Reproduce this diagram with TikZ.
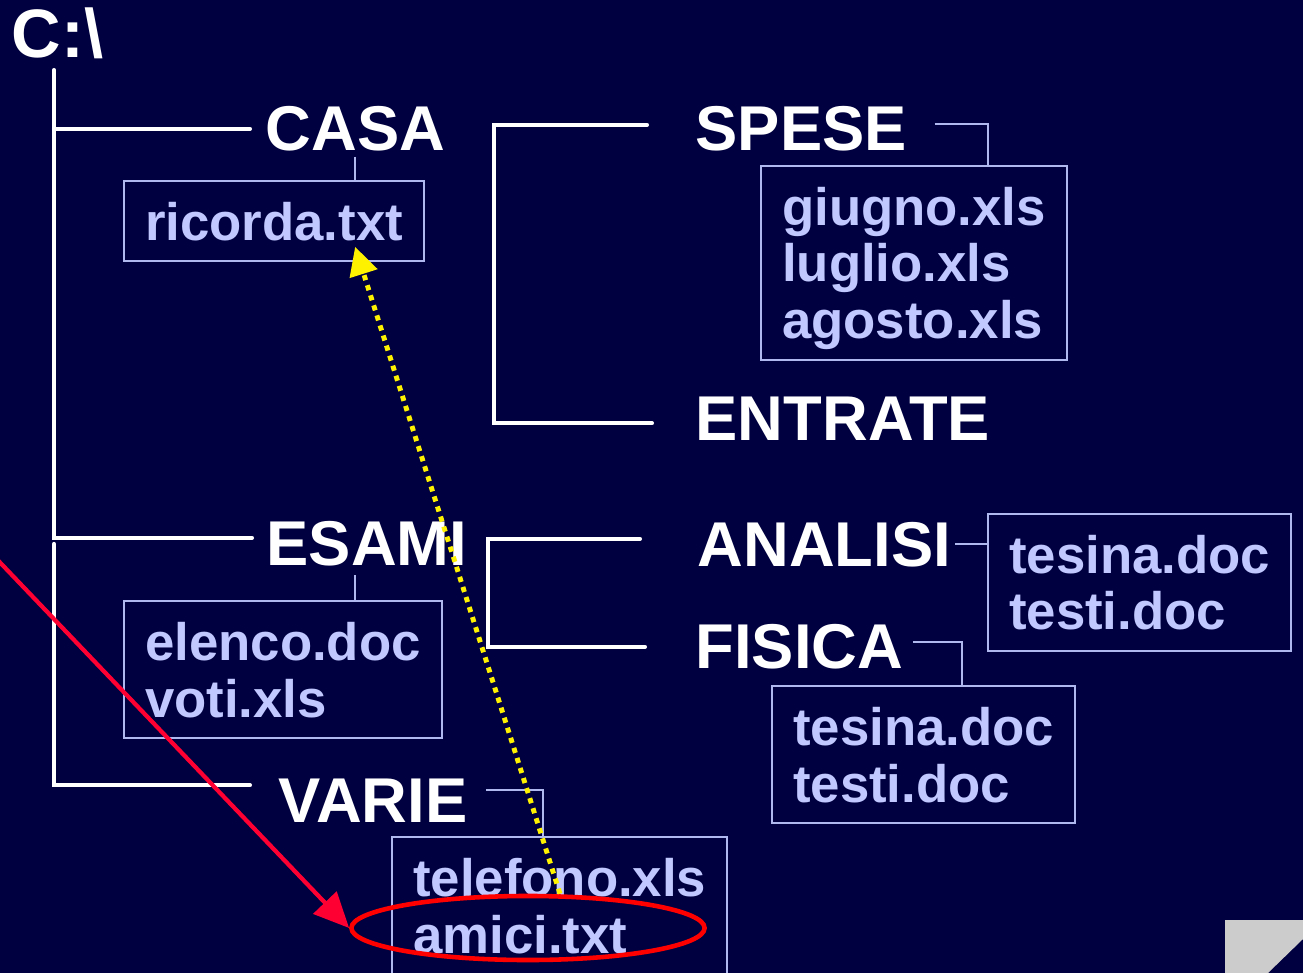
\documentclass[tikz,border=0pt]{standalone}
\usepackage{fontspec}
\setmainfont{Liberation Sans}
\usetikzlibrary{arrows.meta,calc,shapes.geometric}

\definecolor{navy}{RGB}{0,0,64}
\definecolor{lilac}{RGB}{192,200,255}
\definecolor{boxline}{RGB}{176,184,240}
\definecolor{alarm}{RGB}{255,0,51}
\definecolor{cornergray}{RGB}{204,204,204}

\tikzset{
    folder/.style={anchor=base west, inner sep=0pt, text depth=0pt, text=white, font=\fontsize{18}{20}\selectfont\bfseries},
    files/.style={anchor=north west, draw=boxline, line width=0.6pt, inner xsep=6pt, inner ysep=5.9pt, align=left, text depth=0pt, text=lilac, font=\fontsize{15}{16.2}\selectfont\bfseries},
    tree/.style={white, line width=1.15pt, line cap=round},
    link/.style={boxline, line width=0.6pt},
    redarrow/.style={alarm, line width=1.2pt, -{Triangle[length=10pt,width=9pt]}},
    hint/.style={yellow, line width=1.4pt, dash pattern=on 1.5pt off 1.5pt, -{Triangle[length=8pt,width=8pt]}},
}

\begin{document}
\begin{tikzpicture}[x=0.01cm, y=-0.01cm]
    \fill[navy] (0,0) rectangle (1303,973);
    \clip (0,0) rectangle (1303,973);

    \node[folder, font=\fontsize{19.5}{20}\selectfont\bfseries] (root) at (11,58) {C:\textbackslash};
    \node[folder] (casa) at (265,151) {CASA};
    \node[folder] (spese) at (695,151) {SPESE};
    \node[folder] (entrate) at (695,440) {ENTRATE};
    \node[folder] (esami) at (266,565) {ESAMI};
    \node[folder] (analisi) at (697,566) {ANALISI};
    \node[folder] (fisica) at (695,668) {FISICA};
    \node[folder] (varie) at (278,822) {VARIE};

    \node[files] (ricorda) at (123,180) {ricorda.txt};
    \node[files] (spesefiles) at (760,165) {giugno.xls\\luglio.xls\\agosto.xls};
    \node[files] (esamifiles) at (123,600) {elenco.doc\\voti.xls};
    \node[files] (analisifiles) at (987,513) {tesina.doc\\testi.doc};
    \node[files] (fisicafiles) at (771,685) {tesina.doc\\testi.doc};
    \node[files] (variefiles) at (391,836) {telefono.xls\\amici.txt};

    \coordinate (trunk) at (54,70);
    \draw[tree] (trunk) |- ($(esami.west)+(-14,-5)$);
    \draw[tree] (casa.west -| trunk) -- ($(casa.west)+(-15,0)$);
    \draw[tree] ($(esami.west -| trunk)+(0,1)$) |- ($(varie.west)+(-28,-15)$);
    \draw[tree] ($(spese.west)+(-48,-4)$) -- ($(spese.west)+(-201,-4)$) |- ($(entrate.west)+(-43,5)$);
    \draw[tree] ($(analisi.west)+(-57,-5)$) -- ($(analisi.west)+(-209,-5)$) |- ($(fisica.west)+(-50,1)$);

    \draw[link] ($(casa.south)+(0,5)$) -- (casa.south |- ricorda.north);
    \draw[link] ($(esamifiles.north -| casa.south)+(0,-25)$) -- (esamifiles.north -| casa.south);
    \draw[link] ($(spese.east)+(27,-5)$) -| ($(spesefiles.north)+(74,0)$);
    \draw[link] (analisifiles.west |- analisi.east) -- ++(-32,0);
    \draw[link] ($(fisica.east)+(9,-4)$) -| ($(fisicafiles.north)+(38,0)$);
    \draw[link] ($(varie.east)+(18,-10)$) -| ($(variefiles.north)+(-17,0)$);

    \node[draw=red, line width=1.3pt, ellipse, minimum width=3.53cm, minimum height=0.64cm, inner sep=0pt] (circled) at (528,928) {};

    \draw[redarrow] (-10,552) -- (circled.west);
    \draw[hint] ($(circled.north)+(32,0)$) -- ($(ricorda.south)+(81,-15)$);

    \fill[cornergray] (1225,920) -- (1303,920) -- (1303,939) -- (1268,973) -- (1225,973) -- cycle;
\end{tikzpicture}
\end{document}
